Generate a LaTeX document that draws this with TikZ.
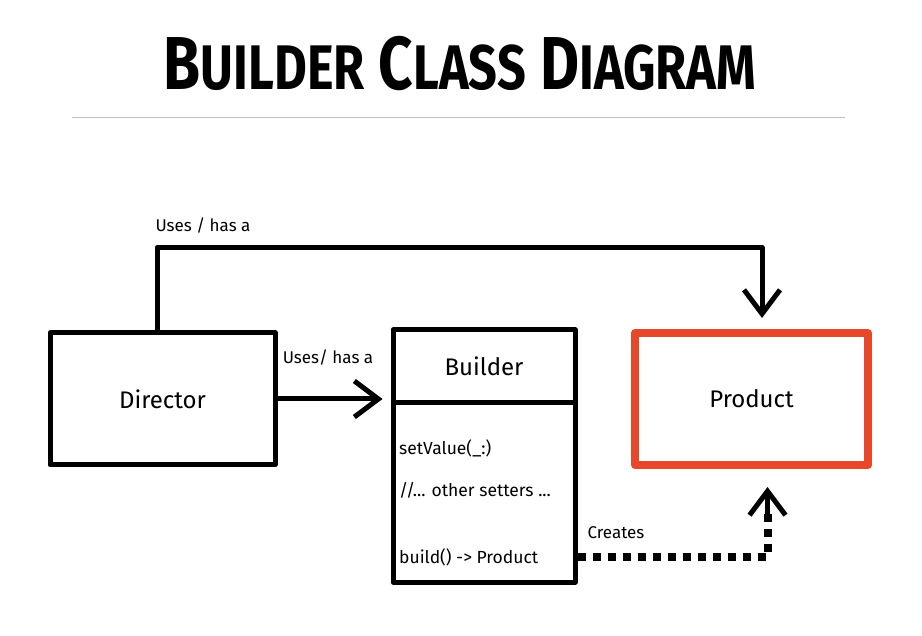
\documentclass[tikz,border=0pt]{standalone}
\usepackage{fontspec}
\setmainfont{Fira Sans}
\newfontfamily\titlefont[FakeStretch=0.8]{Fira Sans}
\usetikzlibrary{arrows.meta}
\definecolor{productred}{RGB}{232,72,42}
\tikzset{
  classbox/.style={draw, line width=5pt, line join=round, minimum width=#1, inner sep=0pt},
  tip/.style={-{Straight Barb[length=24pt,width=36pt,line width=5pt]}},
  link/.style={line width=5pt, line join=round},
  creates/.style={line width=8pt, dash pattern=on 8pt off 7pt},
  label/.style={font=\fontsize{17}{19}\selectfont},
  member/.style={anchor=west, inner sep=0pt, font=\fontsize{17.5}{19}\selectfont}
}
\begin{document}
\begin{tikzpicture}[x=1pt,y=-1pt]
    \useasboundingbox (0,0) rectangle (922,636);
    \node(Title) at (460,64) {\titlefont\bfseries\fontsize{75}{77}\selectfont B{\fontsize{63}{65}\selectfont UILDER} C{\fontsize{63}{65}\selectfont LASS} D{\fontsize{63}{65}\selectfont IAGRAM}};
    \draw[black!25, line width=1pt] (72,118) -- (845,118);

    \node[classbox=225pt, minimum height=132pt, font=\fontsize{24}{26}\selectfont] (Director) at (162.5,399) {Director};
    \node[classbox=182pt, minimum height=73pt, font=\fontsize{24}{26}\selectfont] (BuilderHead) at (484,366.5) {Builder};
    \node[classbox=182pt, minimum height=179pt] (BuilderBody) at (484,492.5) {};
    \node[classbox=233pt, minimum height=132pt, draw=productred, line width=8pt, font=\fontsize{24}{26}\selectfont] (Product) at (751.5,399) {Product};

    \node[member] (SetValue) at (399,448) {setValue(\_:)};
    \node[member] (Setters) at (399,490) {//... other setters ...};
    \node[member] (Build) at (399,557) {build() -> Product};

    \node[label, anchor=west] (UsesTop) at (152,226) {Uses / has a};
    \node[label] (UsesSide) at (328,358) {Uses/ has a};
    \node[label] (Creates) at (616,533) {Creates};

    \draw[link, tip] ([xshift=-5.5pt]Director.north) -- ++(0,-83) -| ([xshift=10.5pt,yshift=11pt]Product.north);
    \draw[link, tip] (Director.east) -- ([xshift=-8pt]Director.east -| BuilderHead.west);
    \draw[creates] (BuilderBody.east |- Build.east) -| ([xshift=16pt,yshift=-44pt]Product.south);
    \draw[link, tip] ([xshift=16pt,yshift=-46pt]Product.south) -- ([xshift=16pt,yshift=-18pt]Product.south);
\end{tikzpicture}
\end{document}
